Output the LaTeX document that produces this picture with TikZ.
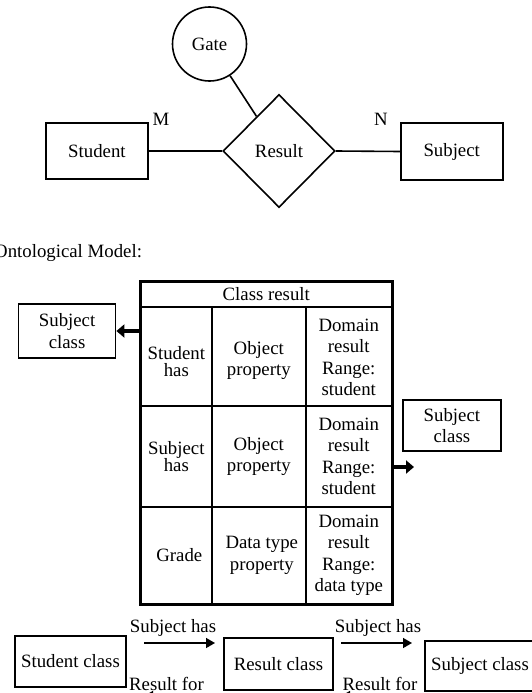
\documentclass[tikz,border=0pt]{standalone}
\usepackage{fontspec}
\setmainfont{Liberation Serif}
\usetikzlibrary{shapes.geometric,arrows.meta}
\begin{document}
\begin{tikzpicture}[x=1pt,y=-1pt,
  every node/.style={font=\fontsize{18.8}{21.3}\selectfont},
  box/.style={draw,line width=1.6pt,inner sep=0pt,align=center},
  cell/.style={draw,line width=1.6pt,inner sep=0pt,align=center,anchor=north west},
  lbl/.style={inner sep=0pt,align=center},
  conn/.style={line width=1.6pt},
  thinarrow/.style={line width=1.5pt,-{Triangle[length=9pt,width=10pt]}},
  fatarrow/.style={line width=4.5pt,-{Triangle[length=8pt,width=13pt]}}]
\useasboundingbox (0,0) rectangle (531,693);

% ER diagram
\node[circle,draw,line width=1.6pt,minimum size=74pt,inner sep=0pt] (gate) at (209.5,44) {Gate};
\node[diamond,draw,line width=1.6pt,minimum width=112pt,minimum height=113pt,inner sep=0pt] (result) at (279,151) {Result};
\node[box,minimum width=102pt,minimum height=56pt] (student) at (96.9,151) {Student};
\node[box,minimum width=102pt,minimum height=57pt] (subject) at (451.7,151.5) {Subject};
\node[lbl] (m) at (161,119) {M};
\node[lbl] (n) at (381,119) {N};
\draw[conn] (student.east) -- (result.west);
\draw[conn] (result.east) -- (subject.west);
\draw[conn] (gate) -- (result);

% Ontological model
\node[lbl,anchor=west] (onto) at (-6,253) {Ontological Model:};

\node[cell,minimum width=251pt,minimum height=25pt] (hdr) at (140,281) {Class result};
\node[cell,minimum width=71pt,minimum height=99pt] (a1) at (140,306) {};
\node[cell,minimum width=94pt,minimum height=99pt] (b1) at (211,306) {};
\node[cell,minimum width=86pt,minimum height=99pt] (c1) at (305,306) {};
\node[lbl] (ta1) at ([yshift=-5pt]a1.center) {Student\\[-4pt]has};
\node[lbl] (tb1) at ([yshift=-4pt]b1.center) {Object\\property};
\node[lbl] (tc1) at ([yshift=-1pt]c1.center) {Domain\\result\\Range:\\student};
\node[cell,minimum width=71pt,minimum height=101pt] (a2) at (140,405) {Subject\\[-4pt]has};
\node[cell,minimum width=94pt,minimum height=101pt] (b2) at (211,405) {Object\\property};
\node[cell,minimum width=86pt,minimum height=101pt] (c2) at (305,405) {Domain\\result\\Range:\\student};
\node[cell,minimum width=71pt,minimum height=97pt] (a3) at (140,506) {\hspace{6pt}Grade};
\node[cell,minimum width=94pt,minimum height=97pt] (b3) at (211,506) {\hspace{6pt}Data type\\\hspace{6pt}property};
\node[cell,minimum width=86pt,minimum height=97pt] (c3) at (305,506) {Domain\\result\\Range:\\data type};
\draw[line width=2.4pt] (hdr.north west) rectangle (c3.south east);

\node[box,minimum width=97pt,minimum height=54pt] (lsc) at (67.1,331) {Subject\\class};
\node[box,minimum width=98pt,minimum height=51pt] (rsc) at (451.9,425.5) {Subject\\class};
\draw[fatarrow] (a1.west |- lsc.east) -- (lsc.east);
\coordinate (rtip) at (414,467);
\draw[fatarrow] (c2.east |- rtip) -- (rtip);

% bottom chain
\node[box,minimum width=111pt,minimum height=51pt] (scls) at (70.5,661.5) {Student class};
\node[box,minimum width=109pt,minimum height=52pt] (rcls) at (278.5,664) {Result class};
\node[box,minimum width=110pt,minimum height=50pt] (subcls) at (480,666) {Subject class};
\coordinate (u1s) at (144,643);
\coordinate (u1e) at (215,643);
\coordinate (u2s) at (341,643);
\coordinate (u2e) at (412,643);
\coordinate (l1s) at (213,696);
\coordinate (l1e) at (144,696);
\coordinate (l2s) at (412,696);
\coordinate (l2e) at (341,696);
\draw[thinarrow] (u1s) -- (u1e);
\draw[thinarrow] (u2s) -- (u2e);
\draw[thinarrow] (l1s) -- (l1e);
\draw[thinarrow] (l2s) -- (l2e);
\node[lbl] (sh1) at (173,628) {Subject has};
\node[lbl] (sh2) at (378,628) {Subject has};
\node[lbl] (rf1) at (166.5,683.5) {Result for};
\node[lbl] (rf2) at (380,683.5) {Result for};
\end{tikzpicture}
\end{document}
